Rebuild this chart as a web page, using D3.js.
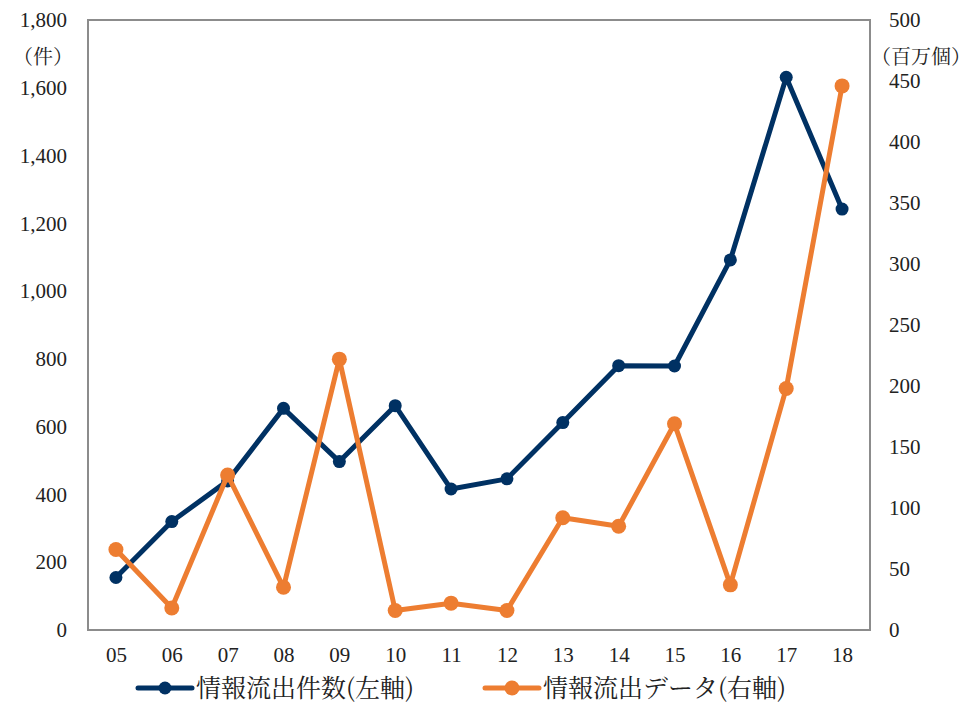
<!DOCTYPE html>
<html>
<head>
<meta charset="utf-8">
<script src="https://cdn.jsdelivr.net/npm/d3@7"></script>
<style>
  body { margin: 0; background: #fff; }
</style>
</head>
<body>
<div id="chart"></div>
<script>
/* 情報流出件数 and 情報流出データ, 2005-2018, dual axis line chart */

const years = ["05", "06", "07", "08", "09", "10", "11", "12", "13", "14", "15", "16", "17", "18"];
const incidents = [155, 320, 440, 654, 497, 662, 416, 446, 612, 780, 779, 1092, 1631, 1242]; // 件 (left)
const records = [66, 18, 127, 35, 222, 16, 22, 16, 92, 85, 169, 37, 198, 446]; // 百万個 (right)
const leftTicks = [0, 200, 400, 600, 800, 1000, 1200, 1400, 1600, 1800];
const rightTicks = [0, 50, 100, 150, 200, 250, 300, 350, 400, 450, 500];

const width = 974, height = 704;
const margin = ({ top: 20, right: 104, bottom: 74, left: 88 });
const numFont = `"Liberation Serif", serif`;
const jpFont = `"Noto Serif CJK JP", serif`;

const svg = d3.select("#chart")
    .append("svg")
    .attr("width", width)
    .attr("height", height);

const x = d3.scalePoint()
    .domain(years)
    .range([margin.left, width - margin.right])
    .padding(0.5);

const yL = d3.scaleLinear()
    .domain([0, 1800])
    .range([height - margin.bottom, margin.top]);

const yR = d3.scaleLinear()
    .domain([0, 500])
    .range([height - margin.bottom, margin.top]);

// plot frame
svg.append("rect")
    .attr("x", margin.left)
    .attr("y", margin.top)
    .attr("width", width - margin.left - margin.right)
    .attr("height", height - margin.top - margin.bottom)
    .attr("fill", "none")
    .attr("stroke", "#8c8c8c")
    .attr("stroke-width", 2);

// axes (labels only, frame draws the lines)
svg.append("g")
    .attr("transform", `translate(${margin.left}, 0)`)
    .call(d3.axisLeft(yL).tickValues(leftTicks).tickFormat(d3.format(",")).tickSize(0).tickPadding(21))
    .call(g => g.select(".domain").remove());

svg.append("g")
    .attr("transform", `translate(${width - margin.right}, 0)`)
    .call(d3.axisRight(yR).tickValues(rightTicks).tickSize(0).tickPadding(19))
    .call(g => g.select(".domain").remove());

svg.append("g")
    .attr("transform", `translate(0, ${height - margin.bottom})`)
    .call(d3.axisBottom(x).tickSize(0).tickPadding(17))
    .call(g => g.select(".domain").remove());

svg.selectAll("g").attr("font-family", numFont);
svg.selectAll(".tick text")
    .attr("fill", "#222")
    .style("font-family", numFont)
    .style("font-size", "21px");

// unit labels
const units = svg.append("g")
    .attr("font-family", jpFont)
    .attr("font-size", 20)
    .attr("fill", "#222");

units.append("text")
    .attr("x", 43).attr("y", 57)
    .attr("text-anchor", "middle").attr("dy", "0.35em")
    .style("font-family", jpFont)
    .text("（件）");

units.append("text")
    .attr("x", 921).attr("y", 57)
    .attr("text-anchor", "middle").attr("dy", "0.35em")
    .style("font-family", jpFont)
    .text("（百万個）");

// series
const series = [
    { name: "情報流出件数(左軸)", values: incidents, y: yL, color: "#003163", r: 6.5 },
    { name: "情報流出データ(右軸)", values: records, y: yR, color: "#ed7d31", r: 7.5 }
];

for (let s of series) {
    const line = d3.line()
        .x((d, i) => x(years[i]))
        .y(d => s.y(d));

    svg.append("path")
        .datum(s.values)
        .attr("d", line)
        .attr("fill", "none")
        .attr("stroke", s.color)
        .attr("stroke-width", 5)
        .attr("stroke-linejoin", "round");

    svg.append("g")
        .selectAll("circle")
        .data(s.values)
        .join("circle")
        .attr("cx", (d, i) => x(years[i]))
        .attr("cy", d => s.y(d))
        .attr("r", s.r)
        .attr("fill", s.color);
}

// legend
const legendX = [138, 485];
const legend = svg.append("g")
    .selectAll("g")
    .data(series)
    .join("g")
    .attr("transform", (d, i) => `translate(${legendX[i]}, 688)`);

legend.append("line")
    .attr("x1", 0).attr("x2", 54)
    .attr("stroke", d => d.color)
    .attr("stroke-width", 5)
    .attr("stroke-linecap", "round");

legend.append("circle")
    .attr("cx", 27)
    .attr("r", d => d.r)
    .attr("fill", d => d.color);

legend.append("text")
    .attr("x", 58)
    .attr("dy", "0.35em")
    .attr("fill", "#222")
    .style("font-family", jpFont)
    .style("font-size", "25px")
    .text(d => d.name);
</script>
</body>
</html>
